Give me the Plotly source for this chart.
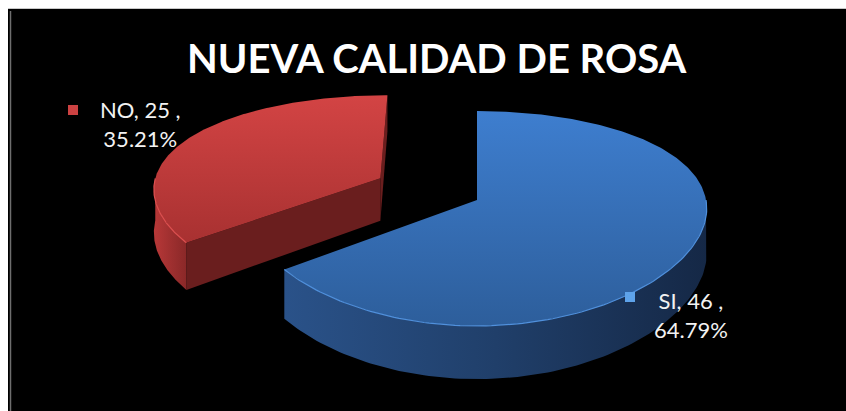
import numpy as np
import plotly.graph_objects as go

# ---------------- data ----------------
categories = ["SI", "NO"]
values = [46, 25]
title_text = "NUEVA CALIDAD DE ROSA"

# ---------------- geometry / style (not data) ----------------
W, H = 846, 411
CX, CY = 477, 200          # pie centre in pixel units
A, B = 229, 104.3          # horizontal / vertical radius
KX, KY = 0.08, 0.172       # perspective factors
T = 44                     # pie thickness
PULL = {"SI": 0.0, "NO": 0.48}
START = 90                 # first slice starts at 12 o'clock, clockwise

STYLE = {
    "SI": dict(top=["#3e7ecf", "#2d5e9b"], wall=["#2a5289", "#203f6a", "#152846"],
               face="#1e3f6e", marker="#5ea3ea", rim="#5090dc"),
    "NO": dict(top=["#d34444", "#a83131"], wall=["#b83838", "#a03030", "#8a2828"],
               face="#6a1e1e", marker="#cc4242", rim="#dd5050"),
}
LABEL_XY = {"NO": (140, 124), "SI": (691, 315)}
MARKER_XY = {"NO": (73, 110), "SI": (630, 297)}

total = sum(values)


def proj(X, Z, h=0.0):
    X = np.asarray(X, float)
    Z = np.asarray(Z, float)
    x = CX + A * X / (1 + KX * Z)
    y = CY - B * Z / (1 + KY * Z) + T * h / (1 + KY * Z)
    return x, y


fig = go.Figure()

# slice angle ranges
slices = []
cum = 0
for cat, v in zip(categories, values):
    a_start = START - cum * 360 / total
    a_end = a_start - v * 360 / total
    cum += v
    mid = np.radians((a_start + a_end) / 2)
    ox, oz = PULL[cat] * np.cos(mid), PULL[cat] * np.sin(mid)
    slices.append(dict(cat=cat, v=v, a0=a_end, a1=a_start, ox=ox, oz=oz))

CAM = (0.0, -1 / KY)


def add_poly(xs, ys, grad=None, color=None):
    kw = dict(x=list(xs) + [xs[0]], y=list(ys) + [ys[0]], mode="lines",
              fill="toself", line=dict(width=0), hoverinfo="skip", showlegend=False)
    if grad is not None:
        kw["fillgradient"] = grad
        kw["fillcolor"] = "rgba(0,0,0,0)"
    else:
        kw["fillcolor"] = color
    fig.add_trace(go.Scatter(**kw))


def colorscale(cols):
    n = len(cols)
    return [[i / (n - 1), c] for i, c in enumerate(cols)]


# draw back slice (NO) first, then SI
for s in sorted(slices, key=lambda s: s["oz"], reverse=True):
    st = STYLE[s["cat"]]
    ox, oz = s["ox"], s["oz"]
    a0, a1 = s["a0"], s["a1"]

    # radial cut faces
    for phi, sign in ((a1, +1), (a0, -1)):
        n_ang = np.radians(phi + 90 * sign)
        nx, nz = np.cos(n_ang), np.sin(n_ang)
        if nx * (CAM[0] - ox) + nz * (CAM[1] - oz) > 1e-6:
            rx, rz = ox + np.cos(np.radians(phi)), oz + np.sin(np.radians(phi))
            p1 = proj(ox, oz, 0); p2 = proj(rx, rz, 0)
            p3 = proj(rx, rz, 1); p4 = proj(ox, oz, 1)
            add_poly([p1[0], p2[0], p3[0], p4[0]], [p1[1], p2[1], p3[1], p4[1]],
                     color=st["face"])

    # outer wall (front facing part)
    rims = []
    for k in range(-2, 2):
        lo, hi = max(a0, -180 + 360 * k), min(a1, 360 * k)
        if hi - lo > 0.1:
            th = np.radians(np.linspace(lo, hi, 120))
            X, Z = ox + np.cos(th), oz + np.sin(th)
            xt, yt = proj(X, Z, 0)
            xb, yb = proj(X, Z, 1)
            xs = np.concatenate([xt, xb[::-1]])
            ys = np.concatenate([yt, yb[::-1]])
            add_poly(xs, ys, grad=dict(type="horizontal", start=float(xs.min()),
                                       stop=float(xs.max()),
                                       colorscale=colorscale(st["wall"])))
            rims.append((xt, yt))

    # top face
    th = np.radians(np.linspace(a0, a1, 240))
    X, Z = ox + np.cos(th), oz + np.sin(th)
    xt, yt = proj(X, Z, 0)
    ax_, ay_ = proj(ox, oz, 0)
    xs = np.concatenate([[float(ax_)], xt])
    ys = np.concatenate([[float(ay_)], yt])
    add_poly(xs, ys, grad=dict(type="vertical", start=float(ys.min()),
                               stop=float(ys.max()),
                               colorscale=colorscale(st["top"])))
    for xr, yr in rims:
        fig.add_trace(go.Scatter(x=xr, y=yr, mode="lines", hoverinfo="skip",
                                 showlegend=False,
                                 line=dict(color=st["rim"], width=1.2)))

# data labels
annotations = []
for cat, v in zip(categories, values):
    pct = v / total * 100
    lx, ly = LABEL_XY[cat]
    mx, my = MARKER_XY[cat]
    fig.add_trace(go.Scatter(x=[mx], y=[my], mode="markers", hoverinfo="skip",
                             showlegend=False,
                             marker=dict(symbol="square", size=10, color=STYLE[cat]["marker"],
                                         line=dict(width=0))))
    annotations.append(dict(x=lx, y=ly, xref="x", yref="y", showarrow=False,
                            text=f"{cat}, {v} ,<br>{pct:.2f}%", align="center",
                            xanchor="center", yanchor="middle",
                            font=dict(family="Lato", size=22, color="#f2f2f2")))

annotations.append(dict(x=437, y=58, xref="x", yref="y", showarrow=False,
                        text=title_text, xanchor="center", yanchor="middle",
                        font=dict(family="Lato", size=40, color="white", weight="bold")))

shapes = [
    dict(type="rect", xref="x", yref="y", x0=0, x1=8, y0=0, y1=H, fillcolor="white",
         line=dict(width=0), layer="above"),
    dict(type="rect", xref="x", yref="y", x0=0, x1=W, y0=0, y1=8, fillcolor="white",
         line=dict(width=0), layer="above"),
    dict(type="line", xref="x", yref="y", x0=8, x1=W, y0=8.5, y1=8.5,
         line=dict(color="#c8c8c8", width=1), layer="above"),
    dict(type="line", xref="x", yref="y", x0=10.5, x1=10.5, y0=11, y1=H,
         line=dict(color="#6e6e6e", width=1.5), layer="above"),
]

fig.update_layout(
    width=W, height=H, margin=dict(l=0, r=0, t=0, b=0),
    paper_bgcolor="black", plot_bgcolor="black",
    xaxis=dict(range=[0, W], visible=False, fixedrange=True),
    yaxis=dict(range=[H, 0], visible=False, fixedrange=True),
    annotations=annotations, shapes=shapes, showlegend=False,
)

fig.write_html("out.html")
